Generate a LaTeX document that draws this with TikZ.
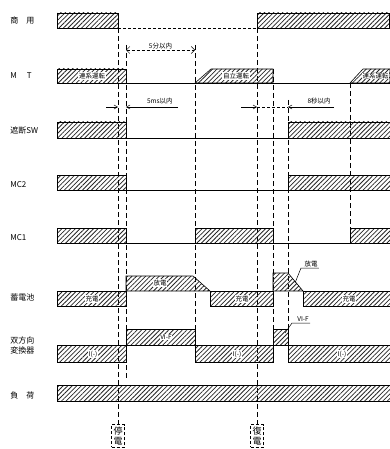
\documentclass[tikz,border=0pt]{standalone}
\usepackage{fontspec}
\newfontfamily\jpfont{Noto Sans CJK JP}
\usetikzlibrary{arrows.meta, patterns.meta, positioning}
\tikzset{
  every picture/.style={line width=0.6pt, x=1pt, y=-1pt},
  sig/.style={draw, pattern={Lines[angle=45, distance=3.2pt, line width=0.8pt]}, pattern color=black!85},
  guide/.style={dash pattern=on 5pt off 3pt, line width=0.5pt},
  rowlbl/.style={font=\jpfont\fontsize{8}{10}\selectfont, anchor=west, align=left, inner sep=0pt},
  tag/.style={font=\jpfont\fontsize{6.5}{7.5}\selectfont, fill=white, inner sep=0.6pt},
  note/.style={font=\jpfont\fontsize{6.5}{7.5}\selectfont, inner sep=1pt},
  span/.style={densely dashed, line width=0.5pt},
  tip/.style={-{Straight Barb[length=3.5pt, width=4pt]}, line width=0.5pt},
  event/.style={draw, densely dashed, line width=0.5pt, font=\jpfont\fontsize{9}{10.5}\selectfont, align=center, inner sep=2pt, fill=white},
}

\begin{document}
\begin{tikzpicture}
  \useasboundingbox (0,0) rectangle (390,449);
  % row names
  \node[rowlbl] (lcom) at (10,20) {商\hspace{8pt}用};
  \node[rowlbl] (lmt) at (10,76) {M\hspace{10pt}T};
  \node[rowlbl] (lsw) at (10,130) {遮断SW};
  \node[rowlbl] (lmc2) at (10,185) {MC2};
  \node[rowlbl] (lmc1) at (10,238) {MC1};
  \node[rowlbl] (lbat) at (10,297) {蓄電池};
  \node[rowlbl] (lconv) at (10,345) {双方向\\変換器};
  \node[rowlbl] (lload) at (10,395) {負\hspace{8pt}荷};

  % time marks
  \draw[guide] (118,28) -- (118,425);
  \draw[guide] (126,45) -- (126,380);
  \draw[guide] (195,45) -- (195,345);
  \draw[guide] (257,28) -- (257,425);
  \draw[guide] (273,69) -- (273,345);
  \draw[guide] (288,100) -- (288,345);
  \draw[guide] (350,83) -- (350,243);

  % commercial
  \draw[sig] (57,13) rectangle (118,28);
  \draw[densely dashed] (118,28) -- (257,28);
  \draw[sig] (257,13) rectangle (389.7,28);

  % MT
  \draw (126,83) -- (390,83);
  \draw[sig] (57,69) rectangle (126,83);
  \node[tag] (mt1) at (92,76) {連系運転};
  \draw[sig] (195,83) -- (211,69) -- (273,69) -- (273,83) -- cycle;
  \node[tag] (mt2) at (236,76) {自立運転};
  \draw[sig] (350,83) -- (363,69) -- (390,69) -- (390,83) -- cycle;
  \node[tag, anchor=east, inner sep=0.3pt] (mt3) at (389.3,76) {連系運転};

  % time spans
  \coordinate (a1) at (126,50);
  \coordinate (a2) at (195,50);
  \draw[span, {Straight Barb[length=3.5pt]}-{Straight Barb[length=3.5pt]}] (a1) -- node[note, above] (t5m) {5分以内} (a2);
  \coordinate (b0) at (106,107);
  \coordinate (b1) at (118,107);
  \coordinate (b2) at (126,107);
  \coordinate (b3) at (178,107);
  \draw[tip] (b0) -- (b1);
  \draw[tip] (b3) -- (b2);
  \node[note, anchor=south east] (t5ms) at (174,105) {5ms以内};
  \coordinate (c0) at (241,107);
  \coordinate (c1) at (257,107);
  \coordinate (c2) at (288,107);
  \coordinate (c3) at (334,107);
  \draw[tip] (c0) -- (c1);
  \draw[densely dashed, line width=0.5pt] (c1) -- (c2);
  \draw[tip] (c3) -- (c2);
  \node[note, anchor=south east] (t8s) at (332,105) {8秒以内};

  % cut-off switch
  \draw (126,138) -- (288,138);
  \draw[sig] (57,122) rectangle (126,138);
  \draw[sig] (288,122) rectangle (390,138);

  % MC2
  \draw (126,190) -- (288,190);
  \draw[sig] (57,175) rectangle (126,190);
  \draw[sig] (288,175) rectangle (390,190);

  % MC1
  \draw (126,243) -- (195,243);
  \draw (273,243) -- (350,243);
  \draw[sig] (57,228) rectangle (126,243);
  \draw[sig] (195,228) rectangle (273,243);
  \draw[sig] (350,228) rectangle (390,243);

  % battery
  \draw[sig] (57,291) rectangle (126,306);
  \node[tag] (bt1) at (92,299) {充電};
  \draw[sig] (126,291) -- (126,276) -- (193,276) -- (210,291) -- cycle;
  \node[tag] (bt2) at (160,283) {放電};
  \draw[sig] (210,291) rectangle (273,306);
  \node[tag] (bt3) at (242,299) {充電};
  \draw[sig] (273,291) -- (273,273) -- (288,273) -- (303,291) -- cycle;
  \node[note, anchor=south] (bt4) at (311,268) {放電};
  \draw[line width=0.5pt] (295,283) -- (301,268) -- (bt4.south east);
  \draw[sig] (303,291) rectangle (390,306);
  \node[tag] (bt5) at (349,299) {充電};

  % bidirectional converter
  \draw[sig] (57,345) rectangle (126,362);
  \node[tag] (cv1) at (93,354) {I(-)};
  \draw[sig] (126,329) rectangle (195,345);
  \node[tag] (cv2) at (166,337) {VI-F};
  \draw[sig] (195,345) rectangle (273,362);
  \node[tag] (cv3) at (237,354) {I(-)};
  \draw[sig] (273,329) rectangle (288,345);
  \node[note, anchor=south] (cv4) at (303,323) {VI-F};
  \draw[line width=0.5pt] (285,333) -- (292,323) -- (cv4.south east);
  \draw[sig] (288,345) rectangle (390,362);
  \node[tag] (cv5) at (342,354) {I(-)};

  % load
  \draw[sig] (57,385) rectangle (390,401);

  % events
  \node[event] (off) at (118,436) {停\\電};
  \node[event] (on) at (257,436) {復\\電};
\end{tikzpicture}
\end{document}
